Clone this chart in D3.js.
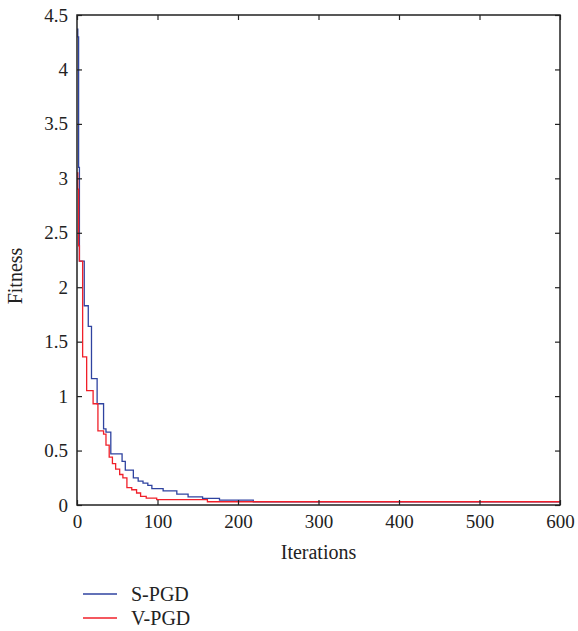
<!DOCTYPE html>
<html>
<head>
<meta charset="utf-8">
<script src="https://cdn.jsdelivr.net/npm/d3@7"></script>
<style>
  body { margin: 0; background: #fff; }
  text { font-family: "Liberation Serif", "DejaVu Serif", serif; fill: #222; }
</style>
</head>
<body>
<svg id="chart" width="578" height="631"></svg>
<script>
// iteration at which the best fitness changed, and the new value (step curve)
var sIter = [0, 1, 2, 3, 9, 14, 18, 25, 33, 36, 42, 56, 60, 70, 76, 82, 88, 93, 107, 124, 138, 156, 177, 219, 600];
var sFit  = [4.37, 4.3, 3.1, 2.24, 1.83, 1.64, 1.16, 0.93, 0.70, 0.67, 0.47, 0.40, 0.32, 0.25, 0.22, 0.20, 0.18, 0.15, 0.13, 0.10, 0.075, 0.06, 0.045, 0.03, 0.03];
var vIter = [0, 1, 2, 3, 7, 12, 20, 26, 33, 36, 40, 44, 48, 53, 57, 62, 68, 74, 79, 86, 99, 162, 600];
var vFit  = [3.05, 2.9, 2.38, 2.24, 1.36, 1.05, 0.93, 0.68, 0.65, 0.55, 0.44, 0.38, 0.33, 0.28, 0.25, 0.16, 0.14, 0.11, 0.08, 0.064, 0.05, 0.03, 0.03];
var xTicks = [0, 100, 200, 300, 400, 500, 600];
var yTicks = [0, 0.5, 1, 1.5, 2, 2.5, 3, 3.5, 4, 4.5];
var seriesNames = ["S-PGD", "V-PGD"];
var seriesColors = ["#2f43a0", "#f0202a"];

var svg = d3.select("#chart");
var mLeft = 77, mRight = 560, mTop = 15, mBottom = 505;

var x = d3.scaleLinear().domain([0, 600]).range([mLeft, mRight]);
var y = d3.scaleLinear().domain([0, 4.5]).range([mBottom, mTop]);

function toPoints(it, f) {
  return it.map(function(d, i) { return [d, f[i]]; });
}
var series = [toPoints(sIter, sFit), toPoints(vIter, vFit)];

var line = d3.line()
    .x(function(d) { return x(d[0]); })
    .y(function(d) { return y(d[1]); })
    .curve(d3.curveStepAfter);

series.forEach(function(s, i) {
  svg.append("path")
      .datum(s)
      .attr("d", line)
      .attr("fill", "none")
      .attr("stroke", seriesColors[i])
      .attr("stroke-width", 1.3);
});

// axes, ticks inside on all four sides
function styleAxis(g) {
  g.select(".domain").remove();
  g.selectAll(".tick line").attr("stroke", "#222").attr("stroke-width", 1.2);
  g.selectAll(".tick text").attr("font-size", "19px")
    .attr("font-family", "Liberation Serif, DejaVu Serif, serif").attr("fill", "#222");
}

svg.append("g")
    .attr("transform", "translate(0," + mBottom + ")")
    .call(d3.axisBottom(x).tickValues(xTicks).tickSize(-5).tickPadding(10).tickFormat(d3.format("d")))
    .call(styleAxis);
svg.append("g")
    .attr("transform", "translate(0," + mTop + ")")
    .call(d3.axisTop(x).tickValues(xTicks).tickSize(-5).tickFormat(""))
    .call(styleAxis);
svg.append("g")
    .attr("transform", "translate(" + mLeft + ",0)")
    .call(d3.axisLeft(y).tickValues(yTicks).tickSize(-5).tickPadding(9).tickFormat(function(d) { return String(d); }))
    .call(styleAxis);
svg.append("g")
    .attr("transform", "translate(" + mRight + ",0)")
    .call(d3.axisRight(y).tickValues(yTicks).tickSize(-5).tickFormat(""))
    .call(styleAxis);

svg.append("rect")
    .attr("x", mLeft).attr("y", mTop)
    .attr("width", mRight - mLeft).attr("height", mBottom - mTop)
    .attr("fill", "none").attr("stroke", "#222").attr("stroke-width", 1.5);

svg.append("text")
    .attr("x", (mLeft + mRight) / 2).attr("y", 559)
    .attr("text-anchor", "middle").attr("font-size", "20px")
    .text("Iterations");

svg.append("text")
    .attr("transform", "translate(22,276) rotate(-90)")
    .attr("text-anchor", "middle").attr("font-size", "20px")
    .text("Fitness");

var legend = svg.append("g");
seriesNames.forEach(function(n, i) {
  var ly = 594 + i * 24;
  legend.append("line")
      .attr("x1", 83).attr("x2", 117).attr("y1", ly).attr("y2", ly)
      .attr("stroke", seriesColors[i]).attr("stroke-width", 1.3);
  legend.append("text")
      .attr("x", 131).attr("y", ly + 7)
      .attr("font-size", "20px")
      .text(n);
});
</script>
</body>
</html>
